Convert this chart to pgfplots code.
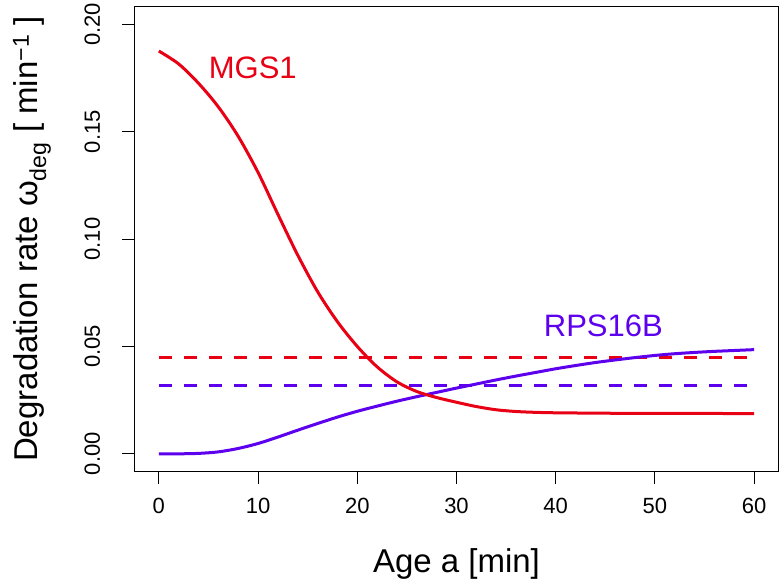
\documentclass[border=0pt]{standalone}
\usepackage{fontspec}
\setmainfont{Liberation Sans}
\usepackage{pgfplots}
\pgfplotsset{compat=1.18}
\definecolor{mgsred}{RGB}{232,0,20}
\definecolor{rpsblue}{RGB}{92,0,238}

\begin{document}
\begin{tikzpicture}
\begin{axis}[
    scale only axis,
    width=643pt, height=464pt,
    xmin=-2.4, xmax=62.4,
    ymin=-0.008, ymax=0.208,
    xtick={0,10,20,30,40,50,60},
    ytick={0,0.05,0.1,0.15,0.2},
    tick pos=left,
    tick align=outside,
    major tick length=13pt,
    axis line style={line width=1pt},
    every tick/.style={black, line width=1pt},
    /pgf/number format/assume math mode=true,
    ticklabel style={font=\fontsize{22}{22}\selectfont},
    scaled y ticks=false,
    yticklabel style={/pgf/number format/fixed, /pgf/number format/fixed zerofill,
        /pgf/number format/precision=2, rotate=90, anchor=base},
    yticklabel shift=22pt,
    xticklabel shift=11pt,
    xlabel={Age a [min]},
    ylabel={Degradation rate ω\textsubscript{deg} [ min\textsuperscript{−1} ]},
    label style={font=\fontsize{33}{33}\selectfont, inner sep=0pt},
    xlabel style={at={(axis description cs:0.5,-0.2177)}, anchor=base},
    ylabel style={at={(axis description cs:-0.1509,0.5)}, anchor=base},
]
% dashed reference levels
\addplot[mgsred, line width=3pt, dash pattern=on 13pt off 12pt] coordinates {(0,0.045)(60,0.045)};
\addplot[rpsblue, line width=3pt, dash pattern=on 13pt off 12pt] coordinates {(0,0.032)(60,0.032)};
% RPS16B
\addplot[rpsblue, line width=3pt, smooth] coordinates {
    (0,0)(2,0)(4,0.0002)(6,0.0009)(8,0.0025)(10,0.0048)(12,0.0078)(14,0.011)
    (16,0.0141)(18,0.0171)(20,0.0198)(22,0.0222)(24,0.0245)(26,0.0266)(28,0.0286)
    (30,0.0306)(32,0.0325)(34,0.0344)(36,0.0362)(38,0.0379)(40,0.0396)(42,0.0411)
    (44,0.0425)(46,0.0437)(48,0.0448)(50,0.0458)(52,0.0466)(54,0.0472)(56,0.0477)
    (58,0.0481)(60,0.0485)
};
% MGS1
\addplot[mgsred, line width=3pt, smooth] coordinates {
    (0,0.1875)(2,0.1815)(4,0.1725)(6,0.1615)(8,0.1478)(10,0.1310)(12,0.1115)
    (14,0.0925)(16,0.0755)(18,0.0615)(20,0.0500)(22,0.0405)(24,0.0335)(26,0.0290)
    (28,0.0262)(30,0.0240)(32,0.0220)(34,0.0205)(36,0.0197)(38,0.0193)(40,0.0191)
    (45,0.0189)(50,0.0188)(55,0.0188)(60,0.0187)
};
\node[mgsred, font=\fontsize{31}{31}\selectfont] at (axis cs:9.47,0.1795) {MGS1};
\node[rpsblue, font=\fontsize{31}{31}\selectfont] at (axis cs:44.8,0.0597) {RPS16B};
\end{axis}
\pgfresetboundingbox
\path[use as bounding box] (current axis.south west) ++(-135pt,-113pt) rectangle ++(781pt,584pt);
\end{tikzpicture}
\end{document}
